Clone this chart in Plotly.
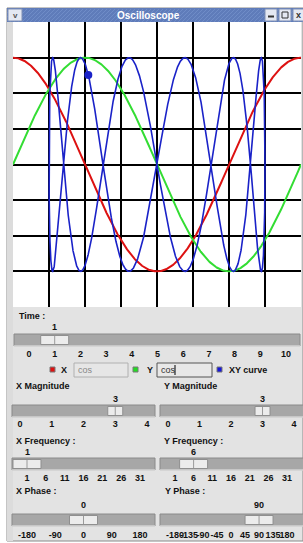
import numpy as np
import plotly.graph_objects as go

# ---------------- data: oscilloscope settings ----------------
time_value = 1
x_function = "cos"
y_function = "cos"
x_magnitude = 3
y_magnitude = 3
x_frequency = 1
y_frequency = 6
x_phase = 0
y_phase = 90
trace_frequency = 1          # the time traces show one period across the screen
marker_param = 2.26          # position of the marker on the XY curve (radians)

time_ticks = [0, 1, 2, 3, 4, 5, 6, 7, 8, 9, 10]
magnitude_ticks = [0, 1, 2, 3, 4]
frequency_ticks = [1, 6, 11, 16, 21, 26, 31]
x_phase_ticks = [-180, -90, 0, 90, 180]
y_phase_ticks = [-180, -135, -90, -45, 0, 45, 90, 135, 180]
grid_ticks = [-3, -2, -1, 0, 1, 2, 3]

# ---------------- layout helpers ----------------
W, H = 303, 543
FONT = "Liberation Sans"
GRAY = "#e3e3e3"


def px(x):
    return x / W


def py(y):
    return 1 - y / H


shapes = []
annotations = []


def rect(x0, y0, x1, y1, fill, line="rgba(0,0,0,0)", lw=1, layer="below"):
    shapes.append(dict(type="rect", xref="paper", yref="paper",
                       x0=px(x0), x1=px(x1), y0=py(y1), y1=py(y0),
                       fillcolor=fill, line=dict(color=line, width=lw), layer=layer))


def seg(x0, y0, x1, y1, color, lw=1, layer="below"):
    shapes.append(dict(type="line", xref="paper", yref="paper",
                       x0=px(x0), x1=px(x1), y0=py(y0), y1=py(y1),
                       line=dict(color=color, width=lw), layer=layer))


def text(x, y, s, size=9, bold=True, color="#111111", xanchor="left", xref="paper"):
    annotations.append(dict(x=(px(x) if xref == "paper" else x), y=py(y), xref=xref, yref="paper",
                            text=s, showarrow=False, xanchor=xanchor, yanchor="middle",
                            borderpad=0,
                            font=dict(family=FONT, size=size, color=color,
                                      weight=("bold" if bold else "normal"))))


# ---------------- window chrome ----------------
rect(7, 8, 303, 541, GRAY, "#8a8a8a", 1)
rect(7, 8, 303, 22, "#5f7cba")
for k in range(-6, 303, 4):
    xa, ya = k, 22
    xb, yb = k + 13, 9
    if xa < 7:
        ya = 22 - (7 - xa)
        xa = 7
    if xb > 303:
        yb = 9 + (xb - 303)
        xb = 303
    shapes.append(dict(type="line", xref="paper", yref="paper",
                       x0=px(xa), y0=py(ya), x1=px(xb), y1=py(yb),
                       line=dict(color="rgba(130,160,215,0.45)", width=1), layer="below"))
# title bar buttons
rect(8, 9, 22, 21, "#e4e8f2", "#7f8fb5", 1)
rect(265, 9, 277, 21, "#e4e8f2", "#7f8fb5", 1)
rect(279, 9, 291, 21, "#e4e8f2", "#7f8fb5", 1)
rect(293, 9, 305, 21, "#e4e8f2", "#7f8fb5", 1)
seg(268, 16.5, 274, 16.5, "#333333", 2)
rect(282, 12, 288, 18, "rgba(0,0,0,0)", "#333333", 1)
text(15, 15.5, "v", size=8, color="#555555", xanchor="center")
text(298, 15, "x", size=9, color="#333333", xanchor="center")
text(148, 15, "Oscilloscope", size=10, color="white", xanchor="center")
# left border strip and screen
rect(7, 22, 13, 541, "#dcdcdc")
rect(13, 22, 301, 307, "white")

# ---------------- scope traces ----------------
h = np.linspace(-4, 4, 800)
tt = (h + 4) * np.pi / 4 * trace_frequency
red = x_magnitude * np.cos(tt - np.radians(x_phase))
green = y_magnitude * np.cos(tt - np.radians(y_phase))
s = np.linspace(0, 2 * np.pi, 5000)
bx = x_magnitude * np.cos(x_frequency * s - np.radians(x_phase))
by = y_magnitude * np.cos(y_frequency * s - np.radians(y_phase))
mx = x_magnitude * np.cos(x_frequency * marker_param - np.radians(x_phase))
my = y_magnitude * np.cos(y_frequency * marker_param - np.radians(y_phase))

fig = go.Figure()
fig.add_trace(go.Scatter(x=h, y=red, mode="lines", line=dict(color="#dd1111", width=2),
                         hoverinfo="skip", showlegend=False))
fig.add_trace(go.Scatter(x=h, y=green, mode="lines", line=dict(color="#33dd33", width=2),
                         hoverinfo="skip", showlegend=False))
fig.add_trace(go.Scatter(x=bx, y=by, mode="lines", line=dict(color="#1a22c8", width=1.6),
                         hoverinfo="skip", showlegend=False))
fig.add_trace(go.Scatter(x=[mx], y=[my], mode="markers", marker=dict(color="#1a22c8", size=8),
                         hoverinfo="skip", showlegend=False))

# ---------------- sliders ----------------
tickfont = dict(family=FONT, size=9, color="#111111", weight="bold")
sliders = [
    # axis id, trough x0, x1, trough y0, y1, vmin, vmax, px at vmin, px at vmax, ticks, value, tick-label y, value-label y, thumb width
    ("x2", 14, 300, 334, 346, 0, 10, 29, 286, time_ticks, time_value, 353, 327, 28),
    ("x3", 12, 155, 405, 417, 0, 4, 20, 147, magnitude_ticks, x_magnitude, 423, 399, 15),
    ("x4", 160, 304, 405, 417, 0, 4, 168, 295, magnitude_ticks, y_magnitude, 423, 399, 15),
    ("x5", 12, 155, 458, 470, 1, 31, 27, 140, frequency_ticks, x_frequency, 477, 452, 28),
    ("x6", 160, 304, 458, 470, 1, 31, 175, 288, frequency_ticks, y_frequency, 477, 452, 28),
    ("x7", 12, 155, 514, 526, -180, 180, 27, 140, x_phase_ticks, x_phase, 534, 505, 28),
    ("x8", 160, 304, 514, 526, -180, 180, 175, 288, y_phase_ticks, y_phase, 534, 505, 28),
]
axes = {}
for (aid, tx0, tx1, ty0, ty1, vmin, vmax, p0, p1, ticks, val, ly, vy, tw) in sliders:
    scale = (vmax - vmin) / (p1 - p0)
    rmin = vmin - (p0 - tx0) * scale
    rmax = vmax + (tx1 - p1) * scale
    axes["xaxis" + aid[1:]] = dict(domain=[px(tx0), min(1, px(tx1))], range=[rmin, rmax],
                                  anchor="free", position=py(ly - 6), tickvals=ticks,
                                  ticktext=[str(v) for v in ticks], tickangle=0,
                                  showgrid=False, zeroline=False, showline=False, ticks="",
                                  tickfont=tickfont, automargin=False, fixedrange=True)
    fig.add_trace(go.Scatter(x=[vmin], y=[-10], xaxis=aid, yaxis="y2", mode="markers",
                             marker=dict(opacity=0), hoverinfo="skip", showlegend=False))
    # trough
    rect(tx0, ty0, tx1, ty1, "#a7a7a7", "#8a8a8a", 1)
    seg(tx0, ty1, tx1, ty1, "#f4f4f4", 1)
    # thumb
    shapes.append(dict(type="rect", xref=aid, yref="paper", xsizemode="pixel", xanchor=val,
                       x0=-tw / 2, x1=tw / 2, y0=py(ty1 - 1.5), y1=py(ty0 + 1.5),
                       fillcolor="#ececec", line=dict(color="#8f8f8f", width=1), layer="above"))
    shapes.append(dict(type="line", xref=aid, yref="paper", xsizemode="pixel", xanchor=val,
                       x0=0, x1=0, y0=py(ty1 - 2), y1=py(ty0 + 2),
                       line=dict(color="#9a9a9a", width=1), layer="above"))
    text(val, vy, str(val), xanchor="center", xref=aid)

# section labels
text(18, 316, "Time :")
text(15, 386, "X Magnitude")
text(163, 386, "Y Magnitude")
text(15, 441, "X Frequency :")
text(163, 441, "Y Frequency :")
text(15, 491, "X Phase :")
text(164, 491, "Y Phase :")

# function row
rect(50, 367, 55, 372, "#e01010", "#777777", 1)
text(60, 370, "X")
rect(74, 363, 128, 377, "#e6e6e6", "#b0b0b0", 1)
text(77, 370, x_function, bold=False, color="#888888")
rect(133, 367, 138, 372, "#22dd22", "#777777", 1)
text(146, 370, "Y")
rect(157, 363, 212, 377, "#e8e8e8", "#555555", 1)
text(160, 370, y_function, bold=False, color="#333333")
seg(175, 365, 175, 375, "#000000", 1)
rect(217, 367, 222, 372, "#1515dd", "#777777", 1)
text(228, 370, "XY curve")

# ---------------- layout ----------------
fig.update_layout(
    width=W, height=H, margin=dict(l=0, r=0, t=0, b=0, pad=0),
    paper_bgcolor="white", plot_bgcolor="rgba(0,0,0,0)",
    showlegend=False, template="none",
    xaxis=dict(domain=[px(13), px(301)], range=[-4, 4], tickvals=grid_ticks,
               showticklabels=False, ticks="", showgrid=True, gridcolor="black",
               gridwidth=2, zeroline=False, showline=False, fixedrange=True),
    yaxis=dict(domain=[py(307), py(22)], range=[-4, 4], tickvals=grid_ticks,
               showticklabels=False, ticks="", showgrid=True, gridcolor="black",
               gridwidth=2, zeroline=False, showline=False, fixedrange=True),
    yaxis2=dict(domain=[0, 0.4], range=[0, 1], visible=False, showgrid=False,
                zeroline=False, fixedrange=True, anchor="free", position=0),
    shapes=shapes, annotations=annotations,
    **axes,
)

fig.write_html("out.html", config={"displayModeBar": False, "staticPlot": True},
               post_script="document.body.style.margin='0';document.body.style.padding='0';"
                           "document.body.style.overflow='hidden';")
